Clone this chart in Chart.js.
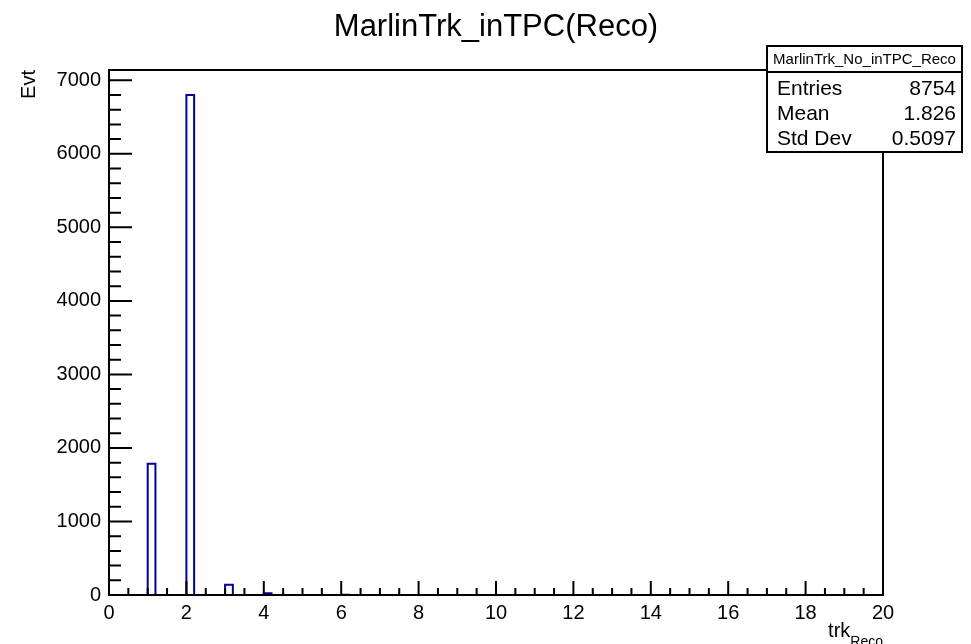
<!DOCTYPE html>
<html>
<head>
<meta charset="utf-8">
<script src="https://cdn.jsdelivr.net/npm/chart.js@4.4.1/dist/chart.umd.min.js"></script>
<style>
  html, body { margin: 0; padding: 0; background: #fff; }
  canvas { display: block; }
</style>
</head>
<body>
<canvas id="myChart" width="971" height="644"></canvas>
<script>
// histogram settings (100 bins from 0 to 20)
const xMin = 0;
const xMax = 20;
const binWidth = 0.2;

// only the non-empty bins: lower edge and content
const binLowEdges = [1.0, 2.0, 3.0, 4.0, 6.0];
const binCounts = [1785, 6800, 140, 25, 4];

const xTickStep = 2;
const yTicks = [0, 1000, 2000, 3000, 4000, 5000, 6000, 7000];
const yMax = 7140;

// stats box
const statNames = ['Entries', 'Mean', 'Std Dev'];
const statValues = ['8754', '1.826', '0.5097'];

const FONT = "'Liberation Sans', Arial, Helvetica, sans-serif";

// build step points at every bin edge
const nBins = Math.round((xMax - xMin) / binWidth);
const points = [];
for (let i = 0; i <= nBins; i++) {
  const edge = +(xMin + i * binWidth).toFixed(4);
  let y = 0;
  for (let j = 0; j < binLowEdges.length; j++) {
    if (Math.abs(binLowEdges[j] - edge) < 1e-6) y = binCounts[j];
  }
  points.push({ x: edge, y: y });
}

// frame + inward tick marks drawn on top of the histogram, ROOT style
const framePlugin = {
  id: 'frame',
  afterDatasetsDraw(chart) {
    const ctx = chart.ctx;
    const a = chart.chartArea;
    const xs = chart.scales.x;
    const ys = chart.scales.y;
    ctx.save();
    ctx.strokeStyle = '#000';
    ctx.lineWidth = 2;
    ctx.strokeRect(a.left, a.top, a.right - a.left, a.bottom - a.top);
    ctx.beginPath();
    for (let v = xMin; v <= xMax + 1e-9; v += 0.5) {
      const px = xs.getPixelForValue(v);
      const len = Math.abs(v % 2) < 1e-6 ? 14 : 7;
      ctx.moveTo(px, a.bottom);
      ctx.lineTo(px, a.bottom - len);
    }
    for (let v = 0; v <= yMax; v += 200) {
      const py = ys.getPixelForValue(v);
      const len = v % 1000 === 0 ? 23 : 12;
      ctx.moveTo(a.left, py);
      ctx.lineTo(a.left + len, py);
    }
    ctx.stroke();
    ctx.restore();
  },
  afterDraw(chart) {
    const ctx = chart.ctx;
    const a = chart.chartArea;
    ctx.save();
    // x axis title with subscript
    ctx.fillStyle = '#000';
    ctx.textAlign = 'right';
    ctx.textBaseline = 'alphabetic';
    ctx.font = '14px ' + FONT;
    ctx.fillText('Reco', a.right, 646);
    const subW = ctx.measureText('Reco').width;
    ctx.font = '20px ' + FONT;
    ctx.fillText('trk', a.right - subW, 637);

    // stats box
    const bx = 767, by = 46, bw = 195, bh = 106;
    ctx.fillStyle = '#fff';
    ctx.fillRect(bx, by, bw, bh);
    ctx.strokeStyle = '#000';
    ctx.lineWidth = 2;
    ctx.strokeRect(bx, by, bw, bh);
    ctx.beginPath();
    ctx.moveTo(bx, 72);
    ctx.lineTo(bx + bw, 72);
    ctx.stroke();
    ctx.fillStyle = '#000';
    ctx.font = '15px ' + FONT;
    ctx.textAlign = 'center';
    ctx.textBaseline = 'middle';
    ctx.fillText('MarlinTrk_No_inTPC_Reco', bx + bw / 2, 60);
    ctx.font = '21px ' + FONT;
    const rowY = [89, 114, 139];
    statNames.forEach((name, i) => {
      ctx.textAlign = 'left';
      ctx.fillText(name, bx + 10, rowY[i]);
      ctx.textAlign = 'right';
      ctx.fillText(statValues[i], bx + bw - 6, rowY[i]);
    });
    ctx.restore();
  }
};

const ctx = document.getElementById('myChart').getContext('2d');
const myChart = new Chart(ctx, {
  type: 'line',
  data: {
    datasets: [{
      label: 'MarlinTrk_No_inTPC_Reco',
      data: points,
      stepped: 'before',
      borderColor: '#00009c',
      borderWidth: 2,
      pointRadius: 0,
      fill: false,
      tension: 0
    }]
  },
  options: {
    responsive: false,
    animation: false,
    devicePixelRatio: 1,
    layout: { padding: { left: 0, right: 88, top: 0, bottom: 0 } },
    plugins: {
      legend: { display: false },
      tooltip: { enabled: false },
      title: {
        display: true,
        text: 'MarlinTrk_inTPC(Reco)',
        color: '#000',
        fullSize: false,
        font: { family: FONT, size: 31, weight: 'normal' },
        padding: { top: 9, bottom: 23.8 }
      }
    },
    scales: {
      x: {
        type: 'linear',
        min: xMin,
        max: xMax,
        grid: { display: false, drawTicks: false },
        border: { display: false },
        ticks: {
          stepSize: xTickStep,
          includeBounds: false,
          maxRotation: 0,
          color: '#000',
          padding: 6,
          font: { family: FONT, size: 20 },
          callback: (v) => String(v)
        },
        afterFit(s) { s.height = 49; }
      },
      y: {
        min: 0,
        max: yMax,
        grid: { display: false, drawTicks: false },
        border: { display: false },
        afterBuildTicks(s) { s.ticks = yTicks.map(v => ({ value: v })); },
        ticks: {
          color: '#000',
          padding: 8,
          font: { family: FONT, size: 20 },
          callback: (v) => String(v)
        },
        title: {
          display: true,
          text: 'Evt',
          align: 'end',
          color: '#000',
          font: { family: FONT, size: 20 },
          padding: { top: 17, bottom: 0 }
        },
        afterFit(s) { s.width = 109; }
      }
    }
  },
  plugins: [framePlugin]
});
</script>
</body>
</html>
